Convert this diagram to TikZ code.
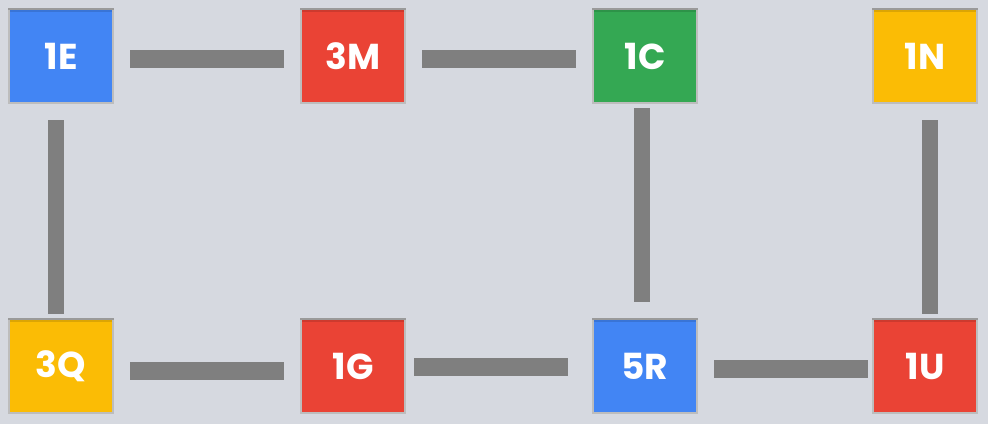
\documentclass[tikz,border=0pt]{standalone}
\usepackage{fontspec}
\setmainfont{Poppins}
\usetikzlibrary{positioning}
\definecolor{bgray}{HTML}{D6D9E0}
\definecolor{gblue}{HTML}{4285F4}
\definecolor{gred}{HTML}{EA4335}
\definecolor{ggreen}{HTML}{34A853}
\definecolor{gyellow}{HTML}{FBBC05}
\definecolor{barcol}{HTML}{7F7F7F}
\definecolor{edgecol}{HTML}{BDBDBD}
\definecolor{topcol}{HTML}{9A9A9A}
\tikzset{
  tile/.style={rectangle,draw=edgecol,line width=2pt,minimum width=104pt,minimum height=94pt,
    text=white,font=\fontsize{36}{36}\selectfont\bfseries,inner sep=0pt,
    path picture={\fill[black,opacity=.12] (path picture bounding box.north west) rectangle ([yshift=-3pt]path picture bounding box.north east);}},
  topedge/.style={draw=topcol,line width=2pt},
  bar/.style={draw=barcol,line width=18pt},
  vbar/.style={draw=barcol,line width=16pt}
}
\begin{document}
\begin{tikzpicture}[x=1pt,y=-1pt]

\fill[bgray] (0,0) rectangle (988,424);
\useasboundingbox (0,0) rectangle (988,424);

% top row
\path
(0,0)  +(61,56)   node[tile,fill=gblue]   (n1E) {1E}
       +(353,56)  node[tile,fill=gred]    (n3M) {3M}
       +(645,56)  node[tile,fill=ggreen]  (n1C) {1C}
       +(925,56)  node[tile,fill=gyellow] (n1N) {1N}
% bottom row
       +(61,366)  node[tile,fill=gyellow] (n3Q) {3Q}
       +(353,366) node[tile,fill=gred]    (n1G) {1G}
       +(645,366) node[tile,fill=gblue]   (n5R) {5R}
       +(925,366) node[tile,fill=gred]    (n1U) {1U}
;

% darker top edge of each tile
\foreach \t in {n1E,n3M,n1C,n1N,n3Q,n1G,n5R,n1U}
  \draw[topedge] ([yshift=-1pt]\t.north west)--([yshift=-1pt]\t.north east);

\draw[bar, shorten <=16pt, shorten >=16pt] ([yshift=-3pt]n1E.east)--([yshift=-3pt]n3M.west);
\draw[bar, shorten <=16pt, shorten >=16pt] ([yshift=-3pt]n3M.east)--([yshift=-3pt]n1C.west);
\draw[bar, shorten <=16pt, shorten >=16pt] ([yshift=-5pt]n3Q.east)--([yshift=-5pt]n1G.west);
\draw[bar, shorten <=8pt, shorten >=24pt] ([yshift=-1pt]n1G.east)--([yshift=-1pt]n5R.west);
\draw[bar, shorten <=16pt, shorten >=4pt] ([yshift=-3pt]n5R.east)--([yshift=-3pt]n1U.west);

\draw[vbar, shorten <=16pt, shorten >=4pt] ([xshift=-5pt]n1E.south)--([xshift=-5pt]n3Q.north);
\draw[vbar, shorten <=4pt, shorten >=16pt] ([xshift=-3pt]n1C.south)--([xshift=-3pt]n5R.north);
\draw[vbar, shorten <=16pt, shorten >=4pt] ([xshift=5pt]n1N.south)--([xshift=5pt]n1U.north);

\end{tikzpicture}
\end{document}
